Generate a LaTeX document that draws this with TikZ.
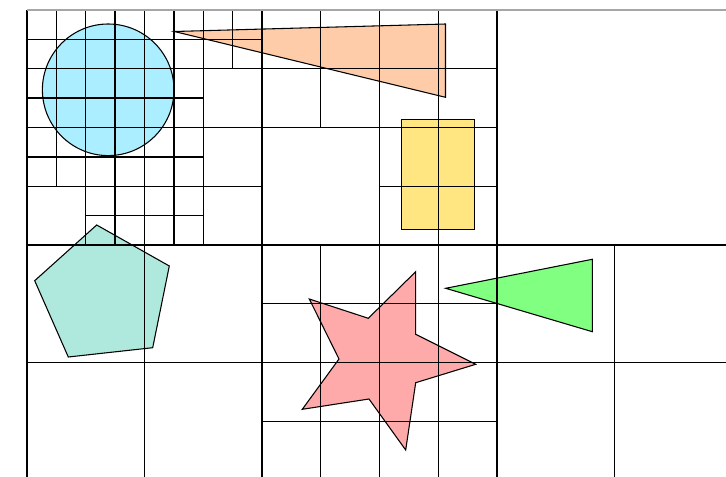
\documentclass[tikz,border=0pt]{standalone}
\definecolor{circfill}{RGB}{170,238,255}
\definecolor{trifill}{RGB}{255,204,170}
\definecolor{rectfill}{RGB}{255,230,128}
\definecolor{pentfill}{RGB}{175,233,221}
\definecolor{starfill}{RGB}{255,170,170}
\definecolor{greenfill}{RGB}{128,255,128}
\tikzset{
  shapeline/.style={draw=black, line width=0.8pt, line join=miter},
  gridline/.style={draw=black, line width=1pt},
  rootline/.style={draw=black!35, line width=0.9pt}
}
\begin{document}
\begin{tikzpicture}[x=0.75pt,y=-0.75pt]
\useasboundingbox (0,0) rectangle (726,477);
\clip (0,0) rectangle (726,477);
% shapes
\draw[shapeline, fill=circfill] (108.2,89.8) circle[radius=65.8];
\draw[shapeline, fill=trifill] (174.3,31.5) -- (445.5,24) -- (445.5,97.3) -- cycle;
\draw[shapeline, fill=rectfill] (401.3,119.3) rectangle (474.3,229.3);
\draw[shapeline, fill=pentfill] (96.7,225) -- (169.3,266) -- (152.7,347.7) -- (68.3,357) -- (34.7,280.7) -- cycle;
\draw[shapeline, fill=starfill] (415.7,271.7) -- (415.7,334.3) -- (475.7,364.3) -- (415.7,382.7) -- (405.7,450) -- (369,399) -- (302.3,409.3) -- (339,359) -- (309.3,299) -- (368.3,318.3) -- cycle;
\draw[shapeline, fill=greenfill] (445.7,288.3) -- (592.3,259.3) -- (592.3,331.7) -- cycle;
% quadtree grid (units of 29.375 px from (27,10))
\foreach \gx/\ga/\gb in {0/0/16.5, 1/0/6, 2/0/8, 3/0/8, 4/0/16.5, 5/0/8, 6/0/8, 7/0/2, 8/0/16.5, 10/0/4, 10/8/16.5, 12/0/16.5, 14/0/16.5, 16/0/16.5, 20/8/16.5}
  \draw[gridline] ({27+29.375*\gx},{10+29.375*\ga}) -- ({27+29.375*\gx},{10+29.375*\gb});
\foreach \gy/\ga/\gb in {1/0/8, 2/0/16, 3/0/6, 4/0/16, 5/0/6, 6/0/8, 6/12/16, 7/2/6, 8/0/25, 10/8/16, 12/0/25, 14/8/16}
  \draw[gridline] ({27+29.375*\ga},{10+29.375*\gy}) -- ({27+29.375*\gb},{10+29.375*\gy});
\draw[rootline] (27,10) -- (740,10);
\end{tikzpicture}
\end{document}
